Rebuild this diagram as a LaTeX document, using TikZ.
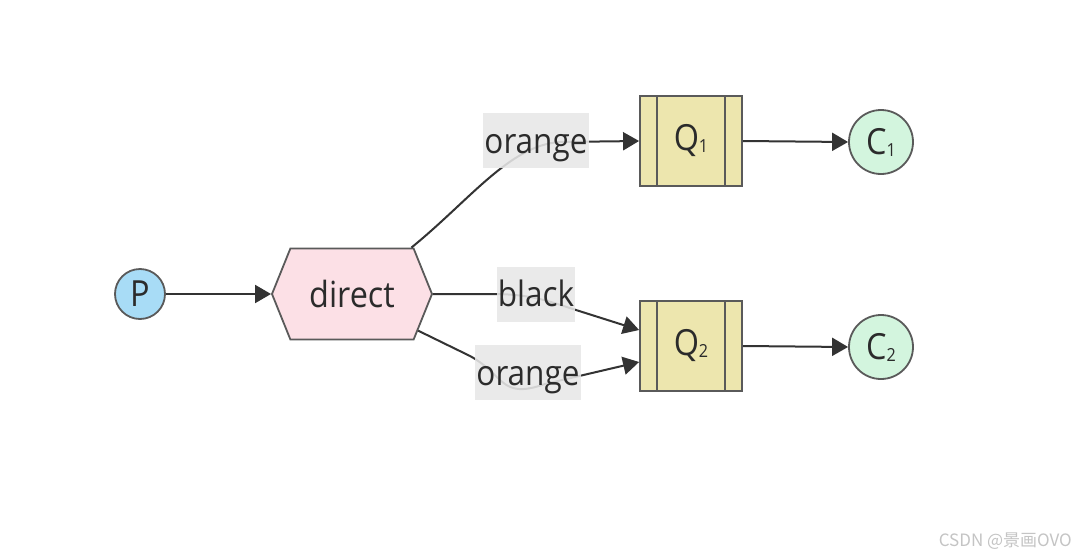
\documentclass[tikz,border=0pt]{standalone}
\usepackage{fontspec}
\setmainfont[FakeStretch=0.9]{Open Sans}
\newfontfamily\cjkfont{Noto Sans CJK SC}
\usetikzlibrary{arrows.meta,shapes.symbols}
\definecolor{edgec}{HTML}{333333}
\definecolor{borderc}{HTML}{5A5A5A}
\definecolor{pfill}{HTML}{A8DCF6}
\definecolor{xfill}{HTML}{FCE0E6}
\definecolor{qfill}{HTML}{EDE6AE}
\definecolor{cfill}{HTML}{D3F5DE}
\definecolor{lblfill}{HTML}{E8E8E8}
\definecolor{textc}{HTML}{2B2B2B}
\definecolor{wmc}{HTML}{C4C4C4}
\tikzset{
  base/.style={draw=borderc, line width=1.8pt, text=textc, font=\fontsize{36}{40}\selectfont, inner sep=0pt},
  prod/.style={base, circle, fill=pfill, minimum size=50pt},
  cons/.style={base, circle, fill=cfill, minimum size=64pt},
  exch/.style={base, signal, signal to=west and east, signal pointer angle=136, fill=xfill, minimum width=160pt, minimum height=91pt},
  queue/.style={base, rectangle, fill=qfill, minimum width=102pt, minimum height=90pt,
    path picture={
      \draw[borderc, line width=1.6pt] ([xshift=17pt]path picture bounding box.north west) -- ([xshift=17pt]path picture bounding box.south west);
      \draw[borderc, line width=1.6pt] ([xshift=-17pt]path picture bounding box.north east) -- ([xshift=-17pt]path picture bounding box.south east);
    }},
  lbl/.style={fill=lblfill, fill opacity=0.88, text opacity=1, text=textc, font=\fontsize{35}{40}\selectfont, inner xsep=1pt, inner ysep=0pt, text height=40pt, text depth=15pt},
  conn/.style={draw=edgec, line width=2pt},
  arr/.style={conn, -{Triangle[length=16pt,width=18pt]}},
}
\newcommand{\subdig}[1]{\raisebox{-2pt}{\fontsize{18}{18}\selectfont #1}}
\begin{document}
\begin{tikzpicture}[x=1pt,y=-1pt]
\useasboundingbox[fill=white] (0,0) rectangle (1088,557);
\node[prod] (P) at (140,294) {P};
\node[exch] (direct) at (352,294) {direct};
\node[queue] (Q1) at (691,141) {Q\subdig{1}};
\node[queue] (Q2) at (691,346) {Q\subdig{2}};
\node[cons] (C1) at (881,142) {C\subdig{1}};
\node[cons] (C2) at (881,347) {C\subdig{2}};

\draw[arr] (P) -- (direct.west);
\draw[arr] (direct.38) .. controls (470,200) and (510,145) .. (560,142) -- (Q1.west);
\draw[arr] (direct.east) -- (490,294) .. controls (530,294) and (545,300) .. (576,310) -- ([yshift=16pt]Q2.west);
\draw[arr] (direct.-29) -- (470,356) .. controls (505,375) and (500,400) .. (545,384) -- ([yshift=-16pt]Q2.west);
\draw[arr] (Q1.east) -- (C1.west);
\draw[arr] (Q2.east) -- (C2.west);

\node[lbl] (lo1) at (536,140.5) {orange};
\node[lbl] (lb) at (536,294) {black};
\node[lbl] (lo2) at (528,372.5) {orange};

\node[anchor=east, text=wmc, font=\cjkfont\fontsize{17}{20}\selectfont, inner sep=0pt] (wm) at (1072,541) {CSDN @景画OVO};
\end{tikzpicture}
\end{document}
